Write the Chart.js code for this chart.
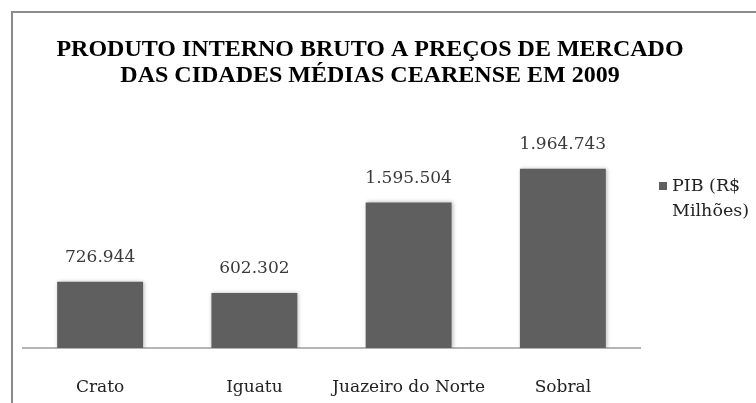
<!DOCTYPE html>
<html><head><meta charset="utf-8">
<script src="https://cdn.jsdelivr.net/npm/chart.js@4"></script>
<style>
html,body{margin:0;padding:0;background:#fff;overflow:hidden;width:756px;height:403px;}
#wrap{position:relative;width:756px;height:403px;background:#fff;}
canvas{position:absolute;left:0;top:0;}
#frame{position:absolute;left:11px;top:11px;width:800px;height:450px;border:2px solid #8c8c8c;box-sizing:border-box;pointer-events:none;}
</style></head><body>
<div id="wrap"><canvas id="c" width="756" height="403"></canvas><div id="frame"></div></div>
<script>
const categories = ["Crato", "Iguatu", "Juazeiro do Norte", "Sobral"];
const pibValues = [726944, 602302, 1595504, 1964743];
const seriesLabel = "PIB (R$ Milhões)";
const legendLines = ["PIB (R$", "Milhões)"];
const titleLines = ["PRODUTO INTERNO BRUTO A PREÇOS DE MERCADO", "DAS CIDADES MÉDIAS CEARENSE EM 2009"];
const yMin = 0;
const yMax = 2500000;

const BAR_COLOR = '#5f5f5f';
const TEXT_FONT = 'DejaVu Serif';

function fmtBR(v) {
  return String(Math.round(v)).replace(/\B(?=(\d{3})+(?!\d))/g, '.');
}

const barDecor = {
  id: 'barDecor',
  beforeDatasetsDraw(chart) {
    const ctx = chart.ctx;
    ctx.save();
    ctx.shadowColor = 'rgba(0,0,0,0.28)';
    ctx.shadowBlur = 4;
    ctx.shadowOffsetX = 1;
    ctx.shadowOffsetY = 0;
  },
  afterDatasetsDraw(chart) {
    const ctx = chart.ctx;
    ctx.restore();
    const meta = chart.getDatasetMeta(0);
    const ds = chart.data.datasets[0];
    ctx.save();
    ctx.font = '17px "' + TEXT_FONT + '"';
    ctx.fillStyle = '#3a3a3a';
    ctx.textAlign = 'center';
    ctx.textBaseline = 'middle';
    meta.data.forEach((bar, i) => {
      ctx.fillText(fmtBR(ds.data[i]), bar.x, bar.y - 24);
    });
    ctx.restore();
  }
};

const sideLegend = {
  id: 'sideLegend',
  afterDraw(chart) {
    const ctx = chart.ctx;
    const ca = chart.chartArea;
    const ds = chart.data.datasets[0];
    const x = ca.right + 19;
    const y = ca.top + 62;
    ctx.save();
    ctx.fillStyle = ds.backgroundColor;
    ctx.fillRect(x, y, 8, 8);
    ctx.font = '17.5px "' + TEXT_FONT + '"';
    ctx.fillStyle = '#222';
    ctx.textAlign = 'left';
    ctx.textBaseline = 'middle';
    legendLines.forEach((t, i) => ctx.fillText(t, x + 13, y + 4 + i * 25));
    ctx.restore();
  }
};

new Chart(document.getElementById('c'), {
  type: 'bar',
  data: {
    labels: categories,
    datasets: [{
      label: seriesLabel,
      data: pibValues,
      backgroundColor: BAR_COLOR,
      borderWidth: 0,
      barPercentage: 0.557,
      categoryPercentage: 1
    }]
  },
  options: {
    responsive: false,
    animation: false,
    devicePixelRatio: 1,
    layout: { padding: { top: 0, left: 0, right: 16, bottom: 0 } },
    plugins: {
      legend: { display: false },
      tooltip: { enabled: false },
      title: {
        display: true,
        text: titleLines,
        color: '#000',
        font: { family: 'Liberation Serif', size: 24, weight: 'bold', lineHeight: 26 / 24 },
        padding: { top: 37, bottom: 31 }
      }
    },
    scales: {
      x: {
        grid: { display: false },
        border: { display: true, color: '#b4b4b4', width: 2 },
        ticks: { font: { family: TEXT_FONT, size: 17 }, color: '#222', padding: 21, maxRotation: 0, minRotation: 0, autoSkip: false },
        afterFit(s) { s.height = 55; }
      },
      y: {
        min: yMin, max: yMax,
        grid: { display: false },
        border: { display: false },
        ticks: { display: false },
        afterFit(s) { s.width = 23; }
      },
      y2: {
        position: 'right',
        grid: { display: false },
        border: { display: false },
        ticks: { display: false },
        afterFit(s) { s.width = 100; }
      }
    }
  },
  plugins: [barDecor, sideLegend]
});
</script>
</body></html>
